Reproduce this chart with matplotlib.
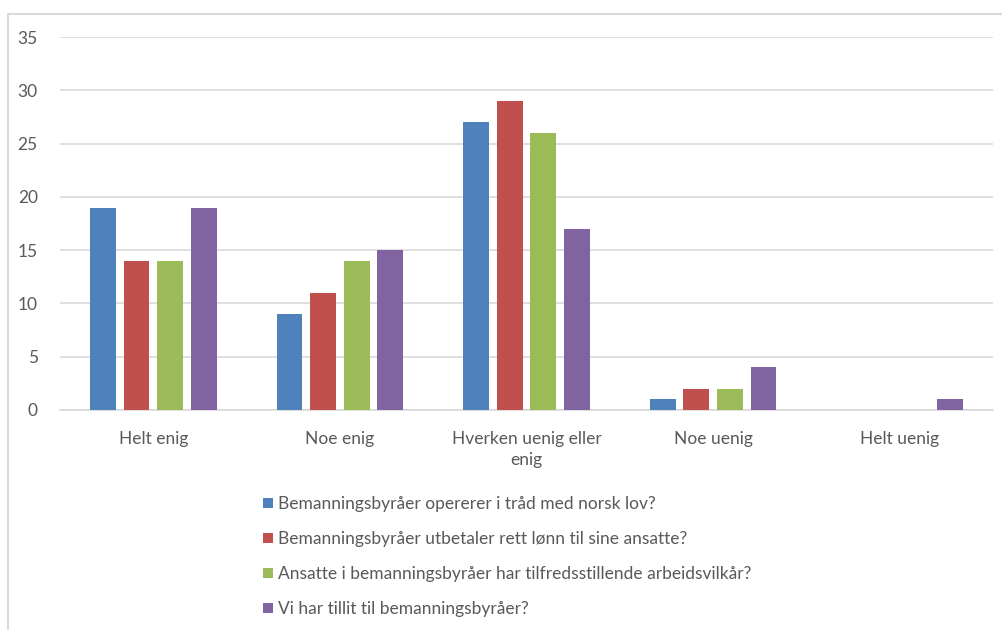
import matplotlib
matplotlib.use("Agg")
import matplotlib.pyplot as plt
from matplotlib.lines import Line2D
from matplotlib.patches import Patch
import numpy as np

plt.rcParams['font.family'] = ['Lato', 'DejaVu Sans']

categories = ["Helt enig", "Noe enig", "Hverken uenig eller\nenig", "Noe uenig", "Helt uenig"]
series_names = [
    "Bemanningsbyråer opererer i tråd med norsk lov?",
    "Bemanningsbyråer utbetaler rett lønn til sine ansatte?",
    "Ansatte i bemanningsbyråer har tilfredsstillende arbeidsvilkår?",
    "Vi har tillit til bemanningsbyråer?",
]
lov = [19, 9, 27, 1, 0]
lonn = [14, 11, 29, 2, 0]
vilkar = [14, 14, 26, 2, 0]
tillit = [19, 15, 17, 4, 1]
yticks = [0, 5, 10, 15, 20, 25, 30, 35]

colors = ["#4F81BD", "#C0504D", "#9BBB59", "#8064A2"]
text_color = "#595959"
grid_color = "#D9D9D9"
fs = 12.5

W, H = 1003, 630
fig = plt.figure(figsize=(W / 100, H / 100), dpi=100)
ax = fig.add_axes([60 / W, 1 - 410 / H, (993 - 60) / W, (410 - 37) / H])

x = np.arange(len(categories))
bar_w = 0.139
step = 0.18
offsets = (np.arange(4) - 1.5) * step
for vals, off, c, name in zip([lov, lonn, vilkar, tillit], offsets, colors, series_names):
    ax.bar(x + off, vals, width=bar_w, color=c, label=name, zorder=3)

ax.set_xlim(-0.5, len(categories) - 0.5)
ax.set_ylim(0, 35)
ax.set_yticks(yticks)
ax.set_xticks(x)
ax.set_xticklabels(categories, fontsize=fs, color=text_color, linespacing=1.4)
ax.tick_params(axis='y', length=0, pad=16, labelsize=fs, labelcolor=text_color)
ax.tick_params(axis='x', length=0, pad=15)
ax.yaxis.grid(True, color=grid_color, linewidth=1.2, zorder=0)
for s in ["top", "right", "left"]:
    ax.spines[s].set_visible(False)
ax.spines["bottom"].set_color(grid_color)
ax.spines["bottom"].set_linewidth(1.2)

# chart area frame (top and left edges)
fig.add_artist(Line2D([8 / W, 1.0], [1 - 14 / H, 1 - 14 / H], color=grid_color, linewidth=1.5))
fig.add_artist(Line2D([8 / W, 8 / W], [0, 1 - 14 / H], color=grid_color, linewidth=1.5))

handles = [Patch(facecolor=c) for c in colors]
fig.legend(handles, series_names, loc="upper left", bbox_to_anchor=(263 / W, 1 - 496 / H),
           frameon=False, fontsize=fs, labelcolor=text_color, handlelength=0.55,
           handleheight=0.55, handletextpad=0.3, labelspacing=1.1, borderpad=0, borderaxespad=0)

fig.savefig("out.png", dpi=100)
